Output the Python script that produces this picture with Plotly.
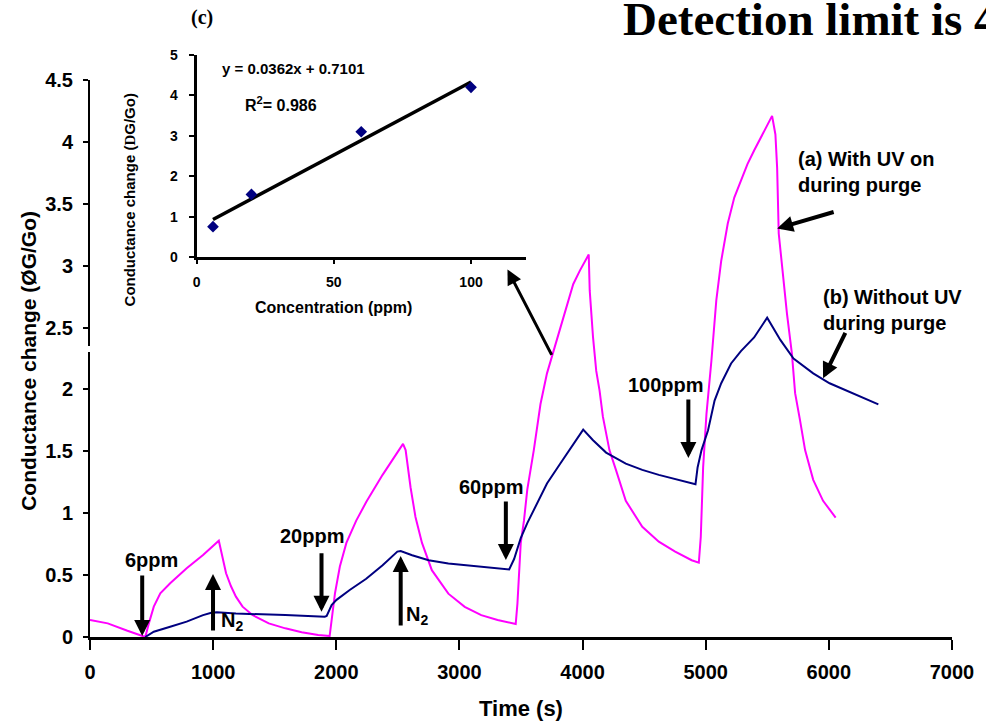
import plotly.graph_objects as go

# ---- main chart data ----
uv_time = [0, 144, 304, 398, 449, 478, 518, 571, 651, 785, 918, 1046, 1078, 1105, 1145, 1185, 1239, 1319, 1452, 1586, 1719, 1853, 1946,
           1962, 1989, 2029, 2082, 2162, 2243, 2376, 2483, 2542, 2563, 2603, 2643, 2696, 2776, 2910, 3043, 3177, 3310, 3457,
           3471, 3498, 3524, 3551, 3604, 3658, 3711, 3764, 3818, 3871, 3924, 3978, 4050, 4058, 4085, 4111, 4138, 4165, 4218,
           4271, 4351, 4485, 4619, 4752, 4886, 4944,
           4960, 4979, 5006, 5046, 5086, 5126, 5179, 5232, 5286, 5339, 5393, 5446, 5499, 5539, 5566, 5580, 5593, 5620, 5660,
           5700, 5726, 5766, 5807, 5873, 5953, 6055]
uv_value = [0.137, 0.11, 0.05, 0.016, 0.0, 0.11, 0.245, 0.353, 0.434, 0.555, 0.662, 0.778, 0.622, 0.515, 0.41, 0.326, 0.245, 0.178, 0.11, 0.07, 0.038, 0.016, 0.008,
            0.137, 0.35, 0.57, 0.76, 0.94, 1.09, 1.31, 1.47, 1.56, 1.51, 1.21, 0.97, 0.76, 0.54, 0.35, 0.244, 0.177, 0.137, 0.105,
            0.27, 0.76, 0.94, 1.19, 1.51, 1.88, 2.13, 2.31, 2.50, 2.69, 2.85, 2.96, 3.09, 2.80, 2.42, 2.15, 1.99, 1.78, 1.51,
            1.35, 1.10, 0.89, 0.77, 0.69, 0.62, 0.60,
            0.81, 1.37, 1.80, 2.23, 2.72, 3.04, 3.34, 3.55, 3.69, 3.82, 3.93, 4.03, 4.13, 4.21, 4.06, 3.79, 3.26, 2.99, 2.61,
            2.29, 1.97, 1.75, 1.51, 1.27, 1.10, 0.965]

nouv_time = [449, 518, 651, 785, 918, 985, 1030, 1185, 1586, 1906, 1922, 1962, 2002, 2109, 2243, 2376, 2496, 2523, 2616, 2750,
             2910, 3177, 3404, 3444, 3498, 3551, 3631, 3711, 3818, 3924, 4005, 4085, 4191, 4351, 4485, 4619, 4779, 4917,
             4934, 4966, 5019, 5072, 5126, 5206, 5286, 5393, 5499, 5606, 5713, 5873, 6006, 6193, 6402]
nouv_value = [0.0, 0.043, 0.083, 0.124, 0.177, 0.196, 0.2, 0.19, 0.177, 0.164, 0.17, 0.258, 0.30, 0.38, 0.47, 0.58, 0.69, 0.695, 0.66, 0.62,
              0.594, 0.567, 0.546, 0.63, 0.80, 0.92, 1.08, 1.24, 1.40, 1.56, 1.675, 1.59, 1.49, 1.40, 1.35, 1.31, 1.27, 1.235,
              1.37, 1.51, 1.67, 1.91, 2.05, 2.21, 2.31, 2.42, 2.58, 2.40, 2.25, 2.13, 2.05, 1.97, 1.88]

x_ticks = [0, 1000, 2000, 3000, 4000, 5000, 6000, 7000]
y_ticks = [0, 0.5, 1, 1.5, 2, 2.5, 3, 3.5, 4, 4.5]
y_tick_text = ["0", "0.5", "1", "1.5", "2", "2.5", "3", "3.5", "4", "4.5"]

# ---- inset data ----
conc_ppm = [6, 20, 60, 100]
conc_response = [0.75, 1.55, 3.1, 4.2]
trend_x = [6, 100]
trend_y = [0.93, 4.33]
inset_x_ticks = [0, 50, 100]
inset_y_ticks = [0, 1, 2, 3, 4, 5]

PINK = "#FF00FF"
NAVY = "#000080"
SANS = "Liberation Sans, Arial, sans-serif"
SERIF = "Liberation Serif, Times New Roman, serif"

fig = go.Figure()
fig.add_trace(go.Scatter(x=uv_time, y=uv_value, mode="lines", line=dict(color=PINK, width=2), showlegend=False))
fig.add_trace(go.Scatter(x=nouv_time, y=nouv_value, mode="lines", line=dict(color=NAVY, width=2), showlegend=False))

fig.add_trace(go.Scatter(x=trend_x, y=trend_y, mode="lines", line=dict(color="black", width=3.5),
                         xaxis="x2", yaxis="y2", showlegend=False))
fig.add_trace(go.Scatter(x=conc_ppm, y=conc_response, mode="markers",
                         marker=dict(symbol="diamond", color=NAVY, size=9),
                         xaxis="x2", yaxis="y2", showlegend=False))

W, H = 986, 723
L, R, T, B = 90, 22, 40, 86
PW, PH = W - L - R, H - T - B


def px(xp):
    return (xp - L) / PW


def py(yp):
    return (H - B - yp) / PH


tick_font = dict(family=SANS, size=20, color="black", weight="bold")
inset_font = dict(family=SANS, size=14, color="black", weight="bold")

fig.update_layout(
    width=W, height=H,
    margin=dict(l=L, r=R, t=T, b=B),
    paper_bgcolor="white", plot_bgcolor="rgba(0,0,0,0)",
    showlegend=False,
    xaxis=dict(range=[0, 7000], tickvals=x_ticks, ticks="outside", ticklen=10, tickwidth=2, tickcolor="black",
               showline=True, linewidth=3, linecolor="black", showgrid=False, zeroline=False,
               tickfont=tick_font, ticklabelstandoff=5, ticklabeloverflow="allow",
               domain=[0, 1], anchor="y"),
    yaxis=dict(range=[0, 4.5], tickvals=y_ticks, ticktext=y_tick_text, ticks="outside", ticklen=5, tickwidth=2,
               tickcolor="black", showline=True, linewidth=2, linecolor="black", showgrid=False, zeroline=False,
               tickfont=tick_font, ticklabelstandoff=6, ticklabeloverflow="allow", domain=[0, py(80)], anchor="x"),
    xaxis2=dict(range=[0, 120], tickvals=inset_x_ticks, ticks="outside", ticklen=4, tickwidth=2, tickcolor="black",
                showline=True, linewidth=3, linecolor="black", showgrid=False, zeroline=False,
                tickfont=inset_font, ticklabelstandoff=6, domain=[px(198), px(532)], anchor="y2"),
    yaxis2=dict(range=[0, 5], tickvals=inset_y_ticks, ticks="outside", ticklen=5, tickwidth=2, tickcolor="black",
                showline=True, linewidth=3, linecolor="black", showgrid=False, zeroline=False,
                tickfont=inset_font, ticklabelstandoff=8, domain=[py(257), py(55)], anchor="x2"),
)

fig.add_shape(type="rect", xref="paper", yref="paper", x0=px(86), x1=px(95), y0=py(352), y1=py(346),
              fillcolor="white", line=dict(width=0), layer="above")

ann = []


def text(x, y, s, size=20, xref="x", yref="y", xanchor="center", family=SANS, bold=True, angle=0, align="center"):
    ann.append(dict(x=x, y=y, xref=xref, yref=yref, text=s, showarrow=False, xanchor=xanchor, yanchor="middle",
                    align=align, textangle=angle,
                    font=dict(family=family, size=size, color="black", weight="bold" if bold else "normal")))


def arrow(x, y, ax, ay, width=4, size=0.8):
    ann.append(dict(x=x, y=y, xref="x", yref="y", ax=ax, ay=ay, text="", showarrow=True, arrowhead=2,
                    arrowsize=size, arrowwidth=width, arrowcolor="black", standoff=0))


# axis titles
text(px(27), py(361), "Conductance change (ØG/Go)", size=21, xref="paper", yref="paper", angle=-90)
text(px(527), py(708), "Time (s)", size=22, xref="paper", yref="paper")
text(px(130), py(200), "Conductance change (<span style='font-family:Liberation Serif'>D</span>G/Go)", size=15,
     xref="paper", yref="paper", angle=-90)
text(px(337), py(307), "Concentration (ppm)", size=16, xref="paper", yref="paper")
text(px(222), py(68), "y = 0.0362x + 0.7101", size=15, xref="paper", yref="paper", xanchor="left")
text(px(245), py(104), "R<sup>2</sup>= 0.986", size=16, xref="paper", yref="paper", xanchor="left")

# headline texts
text(px(204), py(18), "(c)", size=20, xref="paper", yref="paper", family=SERIF)
text(px(628), py(19), "Detection limit is 4", size=47, xref="paper", yref="paper", xanchor="left", family=SERIF)

# labels
text(497, 0.622, "6ppm")
text(1047, 0.129, "N<sub>2</sub>", xanchor="left")
text(1802, 0.816, "20ppm")
text(2549, 0.17, "N<sub>2</sub>", xanchor="left")
text(3260, 1.214, "60ppm")
text(4677, 2.036, "100ppm")
text(5734, 3.757, "(a) With UV on<br>during purge", xanchor="left", align="left")
text(5935, 2.638, "(b) Without UV<br>during purge", xanchor="left", align="left")

# arrows
arrow(424, 0.008, 0, -62)
arrow(999, 0.509, 0, 58)
arrow(1880, 0.204, 0, -60)
arrow(2523, 0.654, 0, 71)
arrow(3377, 0.622, 0, -60)
arrow(4859, 1.446, 0, -60)
arrow(3390, 2.97, 45, 87, width=3, size=1)
arrow(5580, 3.30, 58, -17)
arrow(5953, 2.09, 23, -47)

fig.update_layout(annotations=ann)
fig.write_html("out.html", post_script="document.body.style.margin='0';",
               config={"displayModeBar": False})
